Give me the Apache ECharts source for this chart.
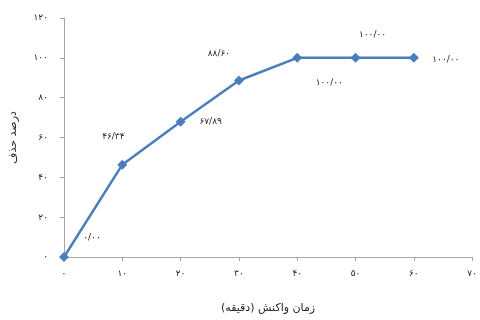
<!DOCTYPE html>
<html>
<head>
<meta charset="utf-8">
<script src="https://cdn.jsdelivr.net/npm/echarts@6/dist/echarts.min.js"></script>
<style>
  html, body { margin: 0; padding: 0; background: #fff; }
  #chart { width: 480px; height: 320px; }
</style>
</head>
<body>
<div id="chart"></div>
<script>
const times = [0, 10, 20, 30, 40, 50, 60]
const removal = [0, 46.34, 67.89, 88.60, 100, 100, 100]
const xName = 'زمان واکنش (دقیقه)'
const yName = 'درصد حذف'

const faDigits = '۰۱۲۳۴۵۶۷۸۹'
function fa(s) {
  return String(s).replace(/[0-9]/g, d => faDigits[+d])
}

// label offsets from each point centre, like the original
const labelShift = [[28, -19], [-9, -28], [30, 0], [-20, -27], [32, 25], [17, -23], [32, 2]]

var font = 'DejaVu Sans, sans-serif'
var axisCommon = {
  axisLine: {show: true, lineStyle: {color: '#a6a6a6', width: 1}},
  axisTick: {show: true, length: 4, lineStyle: {color: '#a6a6a6'}},
  splitLine: {show: false},
  axisLabel: {color: '#222', fontSize: 9, fontFamily: font, formatter: v => fa(v)},
  nameLocation: 'middle',
  nameTextStyle: {color: '#222', fontSize: 11, fontFamily: font}
}

var option = {
  animation: false,
  grid: {left: 62, right: 5, top: 18, bottom: 63},
  xAxis: Object.assign({}, axisCommon, {
    type: 'value', min: 0, max: 70, interval: 10,
    name: xName, nameGap: 46,
    axisLabel: Object.assign({}, axisCommon.axisLabel, {margin: 12})
  }),
  yAxis: Object.assign({}, axisCommon, {
    type: 'value', min: 0, max: 120, interval: 20,
    name: yName, nameGap: 45,
    axisLabel: Object.assign({}, axisCommon.axisLabel, {margin: 16})
  }),
  series: [{
    type: 'line',
    data: times.map((t, i) => ({
      value: [t, removal[i]],
      label: {position: 'inside', offset: labelShift[i]}
    })),
    symbol: 'diamond',
    symbolSize: 10,
    lineStyle: {color: '#4a7ebb', width: 2.5},
    itemStyle: {color: '#4a7ebb'},
    label: {
      show: true, fontSize: 9, fontFamily: font, color: '#222',
      formatter: p => fa(p.value[1].toFixed(2).replace('.', '/'))
    }
  }]
}

echarts.init(document.getElementById('chart')).setOption(option)
</script>
</body>
</html>
